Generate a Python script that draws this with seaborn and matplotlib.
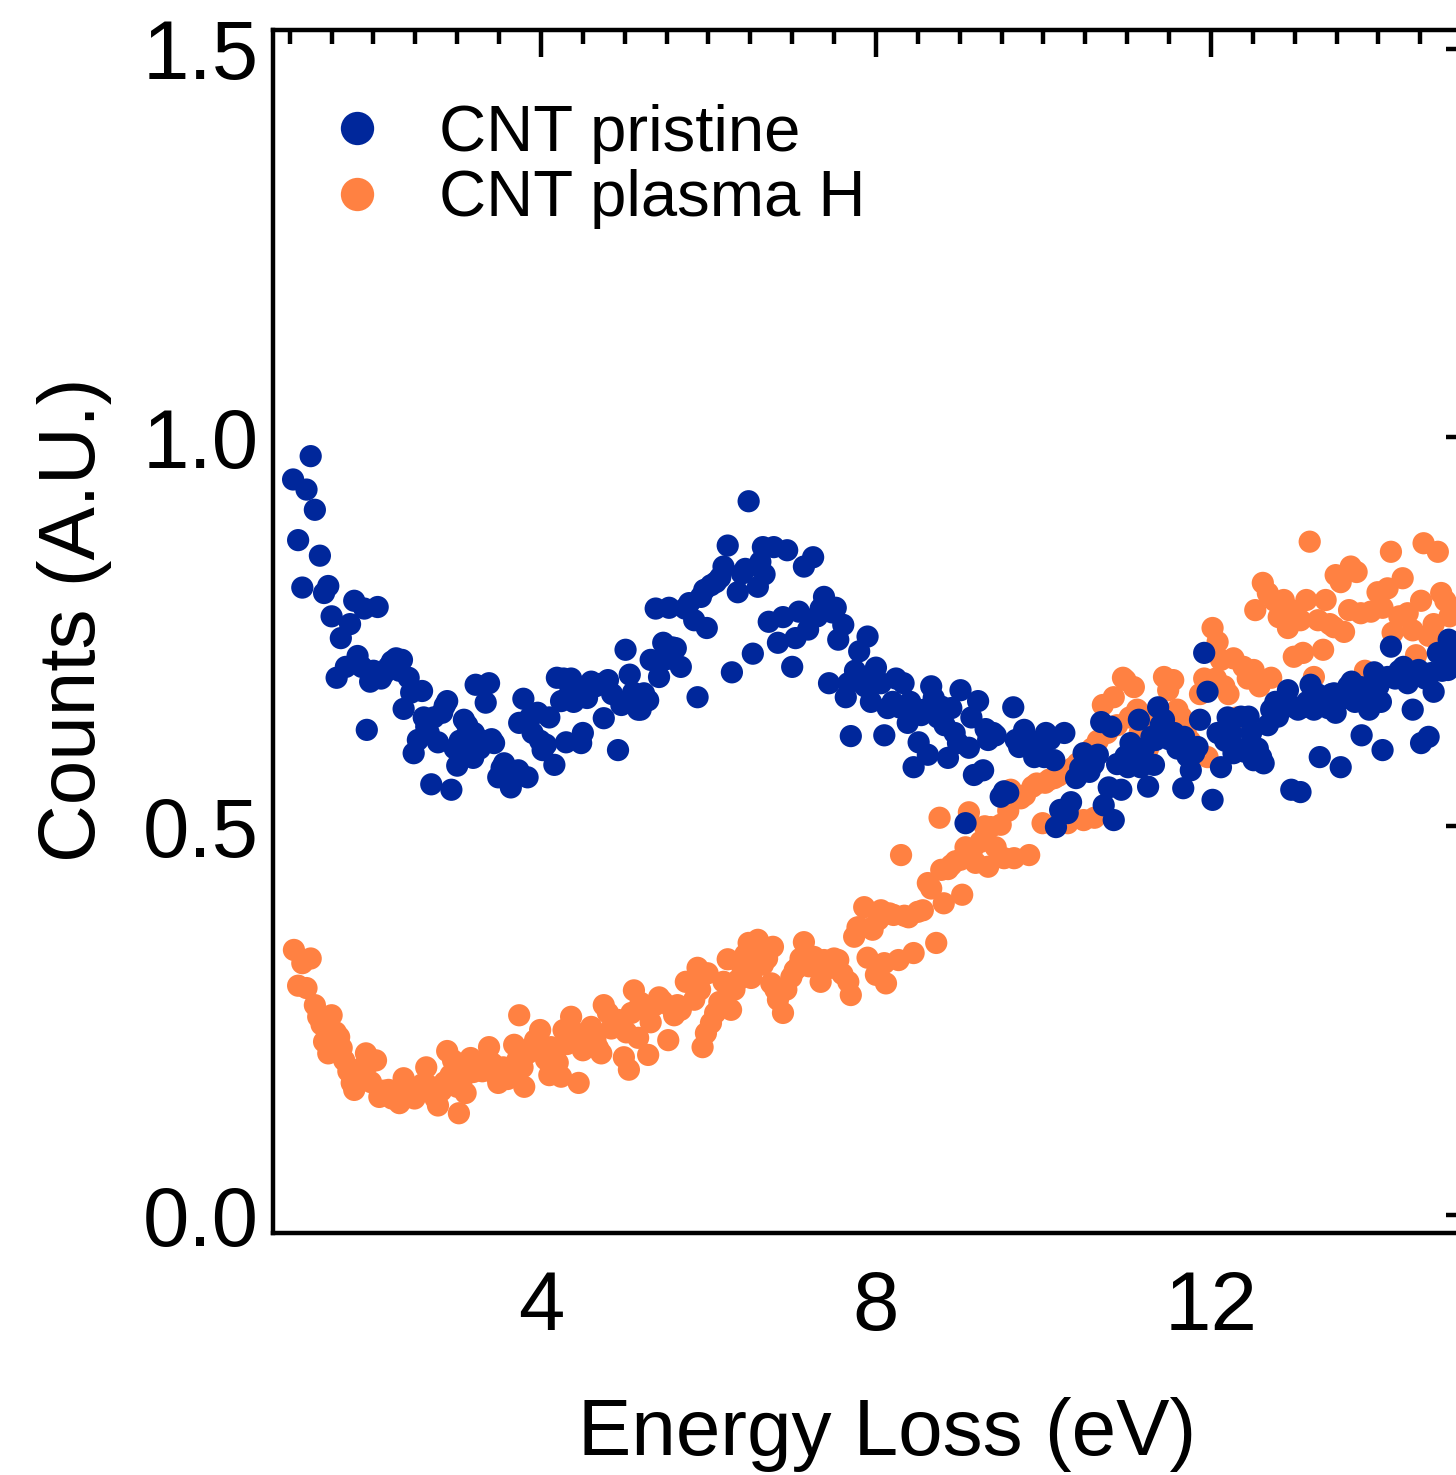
import numpy as np
import pandas as pd
import matplotlib
matplotlib.use("Agg")
import matplotlib.pyplot as plt
from matplotlib.ticker import MultipleLocator, FormatStrFormatter
import seaborn as sns

# ---------------- data ----------------
pristine_x = [
    1.04, 1.10, 1.15, 1.20, 1.25, 1.30, 1.36, 1.41, 1.46, 1.50, 1.56, 1.61, 1.67, 1.72, 1.77, 1.81,
    1.86, 1.89, 1.92, 1.96, 2.00, 2.05, 2.09, 2.13, 2.18, 2.22, 2.27, 2.31, 2.34, 2.36, 2.42, 2.45,
    2.48, 2.53, 2.58, 2.60, 2.63, 2.66, 2.69, 2.72, 2.77, 2.82, 2.85, 2.88, 2.93, 2.97, 3.00, 3.03,
    3.08, 3.12, 3.15, 3.19, 3.20, 3.22, 3.27, 3.30, 3.34, 3.38, 3.41, 3.44, 3.49, 3.53, 3.56, 3.60,
    3.64, 3.68, 3.73, 3.74, 3.79, 3.84, 3.87, 3.90, 3.96, 3.99, 4.02, 4.06, 4.10, 4.16, 4.19, 4.24,
    4.27, 4.30, 4.33, 4.36, 4.39, 4.43, 4.48, 4.50, 4.55, 4.60, 4.65, 4.70, 4.75, 4.80, 4.85, 4.92,
    4.96, 5.01, 5.06, 5.10, 5.16, 5.19, 5.23, 5.28, 5.31, 5.37, 5.41, 5.46, 5.50, 5.53, 5.57, 5.61,
    5.67, 5.72, 5.77, 5.83, 5.87, 5.91, 5.95, 5.98, 6.03, 6.09, 6.14, 6.18, 6.23, 6.28, 6.35, 6.40,
    6.44, 6.48, 6.53, 6.59, 6.62, 6.65, 6.67, 6.72, 6.78, 6.83, 6.89, 6.94, 7.00, 7.04, 7.08, 7.14,
    7.19, 7.25, 7.30, 7.34, 7.38, 7.44, 7.48, 7.52, 7.55, 7.61, 7.64, 7.67, 7.70, 7.75, 7.80, 7.82,
    7.87, 7.90, 7.94, 7.98, 8.00, 8.06, 8.10, 8.14, 8.20, 8.24, 8.28, 8.33, 8.38, 8.41, 8.45, 8.51,
    8.54, 8.58, 8.62, 8.66, 8.69, 8.74, 8.78, 8.82, 8.86, 8.90, 8.94, 8.98, 9.01, 9.07, 9.11, 9.14,
    9.17, 9.22, 9.28, 9.31, 9.34, 9.40, 9.43, 9.49, 9.53, 9.58, 9.64, 9.67, 9.71, 9.77, 9.82, 9.86,
    9.89, 9.94, 9.98, 10.01, 10.03, 10.08, 10.13, 10.15, 10.20, 10.25, 10.29, 10.33, 10.39, 10.44,
    10.48, 10.55, 10.60, 10.65, 10.69, 10.72, 10.78, 10.81, 10.84, 10.88, 10.93, 10.98, 11.01, 11.04,
    11.10, 11.14, 11.16, 11.20, 11.25, 11.29, 11.32, 11.34, 11.37, 11.40, 11.44, 11.50, 11.56, 11.60,
    11.64, 11.67, 11.68, 11.72, 11.76, 11.80, 11.84, 11.87, 11.92, 11.96, 12.02, 12.08, 12.12, 12.17,
    12.20, 12.24, 12.27, 12.32, 12.36, 12.40, 12.45, 12.48, 12.51, 12.56, 12.60, 12.63, 12.68, 12.72,
    12.77, 12.80, 12.84, 12.87, 12.92, 12.96, 13.00, 13.04, 13.07, 13.10, 13.15, 13.19, 13.23, 13.27,
    13.30, 13.35, 13.40, 13.44, 13.47, 13.49, 13.55, 13.60, 13.64, 13.68, 13.72, 13.76, 13.79, 13.80,
    13.84, 13.89, 13.95, 14.00, 14.03, 14.05, 14.11, 14.15, 14.20, 14.25, 14.30, 14.35, 14.41, 14.48,
    14.51, 14.56, 14.60, 14.63, 14.66, 14.71, 14.76, 14.83, 14.84, 14.90, 14.95,
]
pristine_y = [
    0.946, 0.868, 0.807, 0.933, 0.976, 0.907, 0.848, 0.800, 0.809, 0.770, 0.691, 0.742, 0.705, 0.760, 0.790, 0.719,
    0.705, 0.780, 0.624, 0.686, 0.700, 0.782, 0.690, 0.697, 0.705, 0.712, 0.716, 0.700, 0.714, 0.651, 0.691, 0.672,
    0.594, 0.611, 0.674, 0.640, 0.628, 0.620, 0.554, 0.640, 0.608, 0.646, 0.655, 0.661, 0.547, 0.600, 0.578, 0.610,
    0.637, 0.630, 0.600, 0.588, 0.620, 0.682, 0.600, 0.610, 0.659, 0.684, 0.612, 0.607, 0.563, 0.575, 0.581, 0.560,
    0.550, 0.565, 0.572, 0.633, 0.664, 0.563, 0.640, 0.620, 0.646, 0.610, 0.598, 0.605, 0.640, 0.579, 0.691, 0.661,
    0.690, 0.608, 0.668, 0.690, 0.660, 0.675, 0.607, 0.620, 0.665, 0.686, 0.680, 0.683, 0.639, 0.688, 0.670, 0.598,
    0.656, 0.727, 0.695, 0.672, 0.650, 0.650, 0.671, 0.662, 0.714, 0.780, 0.692, 0.736, 0.715, 0.781, 0.730, 0.729,
    0.705, 0.780, 0.787, 0.765, 0.666, 0.795, 0.804, 0.755, 0.810, 0.814, 0.820, 0.834, 0.861, 0.698, 0.801, 0.825,
    0.831, 0.918, 0.722, 0.808, 0.840, 0.859, 0.824, 0.763, 0.859, 0.736, 0.769, 0.855, 0.705, 0.742, 0.776, 0.834,
    0.753, 0.846, 0.770, 0.780, 0.795, 0.684, 0.775, 0.781, 0.740, 0.759, 0.666, 0.684, 0.616, 0.700, 0.725, 0.686,
    0.680, 0.744, 0.660, 0.690, 0.704, 0.684, 0.617, 0.652, 0.660, 0.690, 0.653, 0.684, 0.633, 0.660, 0.576, 0.608,
    0.643, 0.650, 0.592, 0.680, 0.665, 0.640, 0.654, 0.630, 0.588, 0.652, 0.620, 0.607, 0.675, 0.504, 0.601, 0.640,
    0.566, 0.661, 0.572, 0.625, 0.611, 0.620, 0.617, 0.538, 0.545, 0.543, 0.653, 0.611, 0.602, 0.624, 0.610, 0.600,
    0.589, 0.605, 0.600, 0.589, 0.620, 0.612, 0.585, 0.499, 0.521, 0.620, 0.517, 0.531, 0.562, 0.575,
    0.594, 0.570, 0.580, 0.592, 0.634, 0.527, 0.550, 0.628, 0.508, 0.580, 0.547, 0.590, 0.576, 0.607,
    0.590, 0.637, 0.576, 0.600, 0.551, 0.615, 0.579, 0.611, 0.653, 0.630, 0.637, 0.612, 0.620, 0.600,
    0.610, 0.549, 0.615, 0.590, 0.572, 0.594, 0.602, 0.637, 0.723, 0.673, 0.534, 0.620, 0.576, 0.610,
    0.640, 0.620, 0.594, 0.600, 0.641, 0.596, 0.641, 0.620, 0.585, 0.600, 0.589, 0.581, 0.630, 0.650,
    0.660, 0.641, 0.650, 0.662, 0.675, 0.547, 0.653, 0.650, 0.544, 0.653, 0.660, 0.682, 0.650, 0.670,
    0.589, 0.660, 0.652, 0.670, 0.671, 0.646, 0.576, 0.665, 0.680, 0.686, 0.660, 0.675, 0.679, 0.617,
    0.670, 0.650, 0.698, 0.680, 0.660, 0.598, 0.692, 0.731, 0.690, 0.700, 0.705, 0.684, 0.650, 0.701,
    0.607, 0.690, 0.615, 0.697, 0.673, 0.723, 0.700, 0.701, 0.740, 0.720, 0.710,
]

plasma_x = [
    1.05, 1.10, 1.15, 1.20, 1.25, 1.30, 1.34, 1.38, 1.41, 1.46, 1.50, 1.55, 1.59, 1.62, 1.65, 1.70,
    1.74, 1.77, 1.82, 1.87, 1.91, 1.94, 1.97, 2.03, 2.07, 2.12, 2.18, 2.22, 2.27, 2.31, 2.36, 2.40,
    2.44, 2.49, 2.53, 2.58, 2.63, 2.65, 2.70, 2.74, 2.77, 2.81, 2.85, 2.88, 2.92, 2.95, 3.00, 3.02,
    3.06, 3.10, 3.13, 3.16, 3.19, 3.23, 3.27, 3.30, 3.34, 3.38, 3.42, 3.46, 3.49, 3.50, 3.55, 3.60,
    3.64, 3.68, 3.72, 3.74, 3.78, 3.80, 3.84, 3.88, 3.93, 3.99, 4.03, 4.06, 4.10, 4.12, 4.16, 4.20,
    4.24, 4.27, 4.31, 4.36, 4.40, 4.45, 4.50, 4.54, 4.57, 4.60, 4.65, 4.68, 4.72, 4.75, 4.80, 4.84,
    4.88, 4.92, 4.96, 4.99, 5.02, 5.05, 5.08, 5.11, 5.16, 5.19, 5.23, 5.28, 5.31, 5.36, 5.41, 5.45,
    5.52, 5.55, 5.59, 5.63, 5.67, 5.73, 5.77, 5.83, 5.87, 5.90, 5.93, 5.97, 5.99, 6.03, 6.08, 6.13,
    6.18, 6.23, 6.27, 6.31, 6.35, 6.40, 6.44, 6.48, 6.51, 6.55, 6.59, 6.62, 6.65, 6.70, 6.75, 6.77,
    6.80, 6.83, 6.89, 6.93, 6.99, 7.03, 7.07, 7.10, 7.14, 7.20, 7.26, 7.30, 7.34, 7.38, 7.42, 7.46,
    7.50, 7.55, 7.60, 7.67, 7.70, 7.74, 7.78, 7.80, 7.86, 7.90, 7.94, 7.96, 8.00, 8.03, 8.06, 8.10,
    8.12, 8.16, 8.21, 8.27, 8.30, 8.34, 8.39, 8.45, 8.50, 8.56, 8.62, 8.66, 8.72, 8.76, 8.78, 8.81,
    8.86, 8.90, 8.95, 9.01, 9.03, 9.07, 9.11, 9.15, 9.19, 9.25, 9.30, 9.34, 9.37, 9.43, 9.49, 9.53,
    9.58, 9.61, 9.65, 9.73, 9.78, 9.83, 9.87, 9.92, 9.99, 10.02, 10.07, 10.13, 10.18, 10.25, 10.29,
    10.35, 10.41, 10.48, 10.52, 10.58, 10.61, 10.65, 10.71, 10.76, 10.84, 10.88, 10.95, 10.98, 11.03,
    11.08, 11.12, 11.15, 11.20, 11.25, 11.30, 11.35, 11.44, 11.49, 11.55, 11.60, 11.65, 11.70, 11.75,
    11.80, 11.84, 11.87, 11.92, 11.96, 12.02, 12.06, 12.08, 12.12, 12.16, 12.21, 12.27, 12.31, 12.39,
    12.44, 12.51, 12.53, 12.58, 12.62, 12.68, 12.72, 12.76, 12.81, 12.87, 12.92, 12.96, 12.99, 13.07,
    13.10, 13.14, 13.18, 13.23, 13.28, 13.34, 13.37, 13.42, 13.47, 13.49, 13.55, 13.59, 13.65, 13.67,
    13.74, 13.79, 13.84, 13.91, 13.99, 14.05, 14.11, 14.15, 14.17, 14.25, 14.29, 14.35, 14.41, 14.45,
    14.51, 14.54, 14.60, 14.66, 14.71, 14.75, 14.80, 14.85, 14.90,
]
plasma_y = [
    0.341, 0.295, 0.324, 0.292, 0.330, 0.270, 0.255, 0.245, 0.223, 0.208, 0.257, 0.235, 0.229, 0.215, 0.199, 0.185,
    0.170, 0.161, 0.175, 0.190, 0.208, 0.195, 0.171, 0.199, 0.152, 0.160, 0.161, 0.150, 0.155, 0.144, 0.176, 0.165,
    0.160, 0.150, 0.157, 0.168, 0.190, 0.167, 0.160, 0.150, 0.141, 0.160, 0.171, 0.211, 0.180, 0.199, 0.165, 0.131,
    0.175, 0.157, 0.190, 0.202, 0.184, 0.190, 0.197, 0.185, 0.200, 0.216, 0.195, 0.180, 0.170, 0.187, 0.190, 0.175,
    0.183, 0.219, 0.200, 0.257, 0.190, 0.165, 0.208, 0.215, 0.225, 0.238, 0.215, 0.200, 0.180, 0.216, 0.205, 0.196,
    0.178, 0.238, 0.220, 0.255, 0.235, 0.170, 0.212, 0.230, 0.220, 0.242, 0.225, 0.215, 0.208, 0.270, 0.260, 0.240,
    0.250, 0.251, 0.241, 0.203, 0.235, 0.187, 0.260, 0.289, 0.228, 0.273, 0.265, 0.206, 0.248, 0.270, 0.280, 0.275,
    0.225, 0.268, 0.257, 0.270, 0.264, 0.300, 0.300, 0.277, 0.318, 0.290, 0.216, 0.234, 0.311, 0.247, 0.260, 0.274,
    0.300, 0.329, 0.264, 0.290, 0.302, 0.320, 0.335, 0.350, 0.305, 0.330, 0.354, 0.340, 0.322, 0.330, 0.298, 0.345,
    0.290, 0.277, 0.260, 0.290, 0.306, 0.315, 0.319, 0.330, 0.351, 0.320, 0.332, 0.320, 0.300, 0.328, 0.325, 0.318,
    0.330, 0.328, 0.310, 0.300, 0.283, 0.358, 0.370, 0.370, 0.396, 0.331, 0.369, 0.367, 0.309, 0.380, 0.392, 0.324,
    0.298, 0.388, 0.386, 0.328, 0.463, 0.385, 0.383, 0.337, 0.390, 0.392, 0.427, 0.420, 0.350, 0.511, 0.444, 0.401,
    0.445, 0.450, 0.455, 0.457, 0.412, 0.473, 0.518, 0.470, 0.453, 0.480, 0.500, 0.448, 0.499, 0.473, 0.502, 0.459,
    0.520, 0.547, 0.459, 0.536, 0.540, 0.463, 0.551, 0.555, 0.504, 0.556, 0.560, 0.562, 0.565, 0.570, 0.504,
    0.575, 0.581, 0.508, 0.590, 0.600, 0.511, 0.610, 0.656, 0.620, 0.666, 0.630, 0.691, 0.688, 0.640,
    0.679, 0.650, 0.620, 0.640, 0.600, 0.620, 0.630, 0.692, 0.675, 0.688, 0.650, 0.640, 0.620, 0.610,
    0.590, 0.600, 0.670, 0.690, 0.589, 0.755, 0.690, 0.737, 0.714, 0.680, 0.670, 0.716, 0.640, 0.705,
    0.690, 0.701, 0.778, 0.680, 0.813, 0.800, 0.691, 0.790, 0.769, 0.791, 0.755, 0.778, 0.718, 0.765,
    0.723, 0.791, 0.866, 0.692, 0.765, 0.727, 0.791, 0.760, 0.756, 0.823, 0.814, 0.750, 0.778, 0.834,
    0.827, 0.774, 0.700, 0.776, 0.801, 0.781, 0.806, 0.853, 0.749, 0.770, 0.819, 0.774, 0.752, 0.720,
    0.790, 0.864, 0.745, 0.760, 0.853, 0.800, 0.790, 0.770, 0.780,
]

series_labels = ["CNT pristine", "CNT plasma H"]
series_colors = ["#00279B", "#FF8142"]
x_label = "Energy Loss (eV)"
y_label = "Counts (A.U.)"

# ---------------- build table ----------------
df = pd.concat([
    pd.DataFrame({"x": plasma_x, "y": plasma_y, "sample": series_labels[1]}),
    pd.DataFrame({"x": pristine_x, "y": pristine_y, "sample": series_labels[0]}),
], ignore_index=True)

sns.set_theme(style="white")
plt.rcParams["font.family"] = ["Liberation Sans", "DejaVu Sans"]
plt.rcParams["text.color"] = "black"
plt.rcParams["axes.labelcolor"] = "black"
plt.rcParams["xtick.color"] = "black"
plt.rcParams["ytick.color"] = "black"

DPI = 200
W, H = 1456, 1475
fig = plt.figure(figsize=(W / DPI, H / DPI), dpi=DPI)
ax = fig.add_axes([273 / W, (H - 1233) / H, (1473 - 273) / W, (1233 - 30) / H])

sns.scatterplot(
    data=df, x="x", y="y", hue="sample",
    hue_order=series_labels,
    palette=dict(zip(series_labels, series_colors)),
    s=64, linewidth=0, alpha=1.0, ax=ax,
)

ax.set_xlim(0.8, 15.13)
ax.set_ylim(-0.023, 1.524)
ax.xaxis.set_major_locator(MultipleLocator(4))
ax.xaxis.set_minor_locator(MultipleLocator(0.5))
ax.yaxis.set_major_locator(MultipleLocator(0.5))
ax.yaxis.set_minor_locator(MultipleLocator(0.1))
ax.yaxis.set_major_formatter(FormatStrFormatter("%.1f"))

for sp in ax.spines.values():
    sp.set_visible(True)
    sp.set_color("black")
    sp.set_linewidth(1.6)

ax.tick_params(axis="both", which="both", direction="in", top=True, right=True,
               color="black", width=1.6)
ax.tick_params(axis="both", which="major", length=9.7, labelsize=30)
ax.tick_params(axis="both", which="minor", length=5.2)
ax.tick_params(axis="x", which="major", pad=13)
ax.tick_params(axis="y", which="major", pad=5)

ax.set_xlabel(x_label, fontsize=28.8, labelpad=18)
ax.set_ylabel(y_label, fontsize=28.8, labelpad=11)
ax.xaxis.label.set_x(0.512)
ax.yaxis.label.set_y(0.51)

handles, labels = ax.get_legend_handles_labels()
ax.legend(handles, labels, loc="upper left", bbox_to_anchor=(-0.006, 0.960),
          frameon=False, fontsize=23.5, markerscale=1.5, handletextpad=0.25,
          labelspacing=0.08, borderaxespad=0.0)

ax.set_facecolor("white")
fig.patch.set_facecolor("white")
fig.savefig("out.png", dpi=DPI)
